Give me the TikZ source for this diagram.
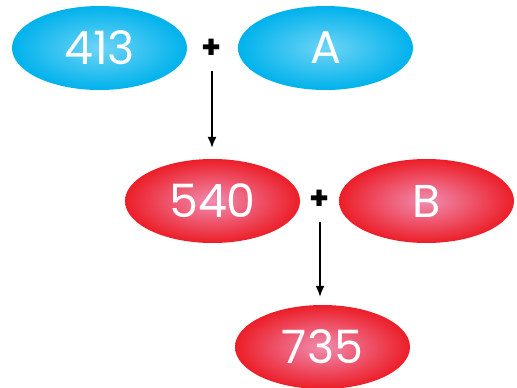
\documentclass[tikz,border=0pt]{standalone}
\usepackage{fontspec}
\setmainfont{Poppins}
\definecolor{skyblue}{RGB}{0, 178, 236}
\definecolor{skylight}{RGB}{110, 212, 246}
\definecolor{rosered}{RGB}{236, 30, 40}
\definecolor{rosepink}{RGB}{240, 140, 176}
\usetikzlibrary{shapes.geometric, arrows.meta, positioning}

\begin{document}
\begin{tikzpicture}[x=1pt, y=-1pt,
  numblue/.style={ellipse, minimum width=175pt, minimum height=84pt, inner sep=0pt,
    inner color=skylight, outer color=skyblue, text=white, font=\fontsize{46}{46}\selectfont},
  numred/.style={ellipse, minimum width=175pt, minimum height=84pt, inner sep=0pt,
    inner color=rosepink, outer color=rosered, text=white, font=\fontsize{46}{46}\selectfont},
  plus/.style={font=\fontsize{32}{32}\selectfont\bfseries, inner sep=0pt},
  link/.style={-{Latex[length=11pt, width=9pt]}, line width=1.5pt}]
  \useasboundingbox (0,0) rectangle (517,388);

  % First sum
  \node[numblue] (first) at (99.5, 48) {413};
  \node[plus] (plusa) at (212, 49) {+};
  \node[numblue] (unkA) at (325.5, 48) {A};

  % Second sum
  \node[numred] (second) at (212.5, 201) {540};
  \node[plus] (plusb) at (320, 200) {+};
  \node[numred] (unkB) at (426.5, 201) {B};

  % Result
  \node[numred] (result) at (322.5, 347) {735};

  % Arrows
  \draw[link, shorten >=11pt] (plusa.south) ++(0,12) coordinate (starta) (starta) -- (second.north -| starta);
  \draw[link, shorten >=8pt] (plusb.south) ++(0,12) coordinate (startb) (startb) -- (result.north -| startb);
\end{tikzpicture}
\end{document}
